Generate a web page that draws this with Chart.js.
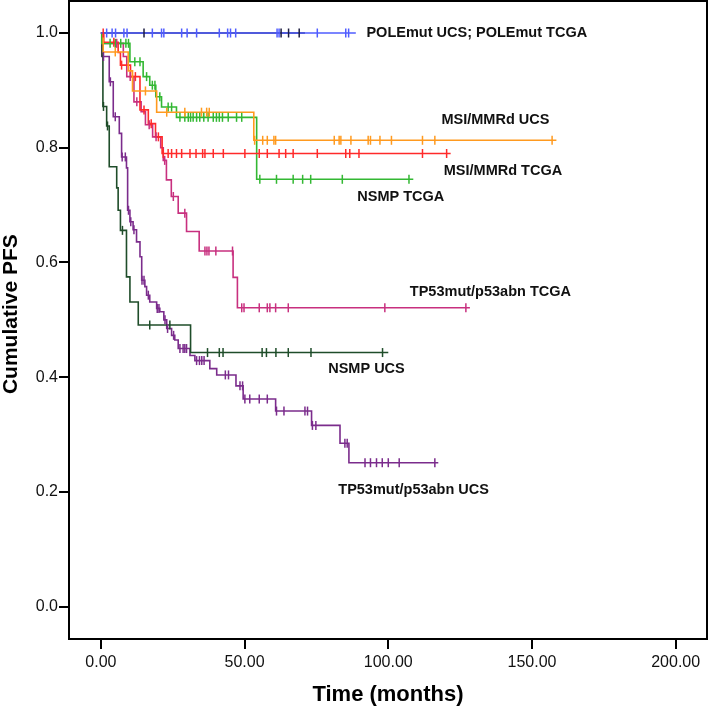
<!DOCTYPE html>
<html>
<head>
<meta charset="utf-8">
<title>Cumulative PFS</title>
<script src="https://cdn.jsdelivr.net/npm/chart.js@4/dist/chart.umd.min.js"></script>
<style>
  html, body { margin: 0; padding: 0; background: #fff; }
  #wrap { width: 709px; height: 708px; position: relative; }
</style>
</head>
<body>
<div id="wrap"><canvas id="km"></canvas></div>
<script>
// ticks
const xTicks = [0, 50, 100, 150, 200];
const yTicks = [0, 0.2, 0.4, 0.6, 0.8, 1.0];

// POLEmut UCS (no events)
const poleUcsEvents = [];
const poleUcsSurv = [];
const poleUcsCensored = [2.0, 3.9, 5.1, 8.0, 9.1, 17.9, 21.1, 21.9, 28.1, 30.0, 33.3, 41.2, 44.1, 45.1, 46.9, 61.3, 62.0, 75.3, 85.2, 86.2];
const poleUcsLast = 88.7;

// POLEmut TCGA (no events)
const poleTcgaEvents = [];
const poleTcgaSurv = [];
const poleTcgaCensored = [15.0, 62.7, 65.3, 69.0];
const poleTcgaLast = 71.0;

// MSI/MMRd UCS
const msiUcsEvents = [0.8, 9.5, 11.0, 19.4, 53.2];
const msiUcsSurv = [0.967, 0.934, 0.899, 0.862, 0.813];
const msiUcsCensored = [5.0, 15.5, 22.9, 29.2, 35.0, 36.8, 37.7, 53.5, 56.3, 57.9, 60.2, 60.8, 81.2, 82.9, 83.5, 87.0, 93.0, 93.8, 97.1, 101.1, 111.9, 116.2, 157.0];
const msiUcsLast = 158.5;

// MSI/MMRd TCGA
const msiTcgaEvents = [1.0, 6.0, 6.8, 10.3, 13.6, 16.5, 19.0, 21.3];
const msiTcgaSurv = [0.984, 0.966, 0.944, 0.924, 0.866, 0.842, 0.819, 0.790];
const msiTcgaCensored = [0.8, 4.5, 7.2, 12.0, 15.0, 17.5, 20.0, 21.7, 23.4, 24.6, 26.3, 28.1, 31.0, 33.1, 35.4, 36.2, 39.1, 42.6, 50.1, 55.1, 57.9, 62.0, 64.3, 66.9, 75.3, 85.2, 86.6, 89.8, 111.9, 120.3];
const msiTcgaLast = 121.7;

// NSMP TCGA
const nsmpTcgaEvents = [0.3, 10.1, 14.7, 17.0, 19.1, 21.1, 26.3, 54.2];
const nsmpTcgaSurv = [0.982, 0.950, 0.924, 0.909, 0.889, 0.871, 0.853, 0.745];
const nsmpTcgaCensored = [3.2, 5.0, 6.9, 8.7, 9.6, 11.8, 13.6, 15.9, 17.9, 18.8, 20.5, 23.4, 24.6, 27.5, 29.2, 30.4, 31.2, 32.1, 33.3, 34.4, 35.8, 37.3, 39.1, 40.2, 41.2, 42.3, 44.3, 47.2, 49.0, 55.3, 61.1, 66.9, 70.2, 73.0, 84.0, 107.2];
const nsmpTcgaLast = 108.7;

// TP53mut/p53abn TCGA
const p53TcgaEvents = [0.5, 7.8, 9.0, 11.5, 14.0, 15.5, 18.0, 20.8, 21.7, 22.8, 24.5, 26.9, 29.8, 34.2, 46.0, 47.5];
const p53TcgaSurv = [0.982, 0.959, 0.924, 0.880, 0.863, 0.840, 0.819, 0.800, 0.778, 0.744, 0.715, 0.686, 0.654, 0.620, 0.574, 0.521];
const p53TcgaCensored = [5.5, 10.2, 12.5, 16.8, 19.2, 22.2, 25.2, 29.2, 36.2, 36.9, 37.6, 40.0, 45.8, 49.0, 49.8, 55.1, 57.9, 58.8, 60.8, 65.2, 98.8, 127.0];
const p53TcgaLast = 128.4;

// NSMP UCS
const nsmpUcsEvents = [0.4, 0.7, 2.0, 2.9, 5.5, 6.0, 6.8, 8.9, 10.1, 13.0, 31.2];
const nsmpUcsSurv = [0.960, 0.872, 0.838, 0.767, 0.730, 0.691, 0.656, 0.575, 0.531, 0.491, 0.443];
const nsmpUcsCensored = [0.9, 2.3, 7.5, 17.0, 24.0, 37.1, 41.2, 42.5, 56.1, 57.6, 60.9, 65.2, 73.1, 98.0];
const nsmpUcsLast = 100.0;

// TP53mut/p53abn UCS
const p53UcsEvents = [0.3, 2.9, 4.3, 6.4, 7.2, 8.9, 9.3, 10.1, 11.2, 12.4, 13.6, 14.2, 15.3, 15.9, 17.0, 19.4, 20.5, 21.9, 22.9, 24.6, 25.7, 26.9, 31.0, 32.7, 37.9, 40.3, 47.0, 49.5, 60.8, 73.3, 83.2, 86.3];
const p53UcsSurv = [0.959, 0.915, 0.854, 0.825, 0.784, 0.765, 0.691, 0.671, 0.657, 0.636, 0.610, 0.569, 0.558, 0.543, 0.531, 0.520, 0.514, 0.500, 0.485, 0.473, 0.465, 0.450, 0.438, 0.429, 0.415, 0.404, 0.385, 0.362, 0.341, 0.316, 0.285, 0.251];
const p53UcsCensored = [0.9, 3.3, 5.0, 7.4, 8.5, 9.6, 10.4, 11.5, 14.3, 15.0, 16.5, 19.6, 20.2, 22.3, 23.2, 25.3, 27.5, 28.6, 29.2, 29.8, 33.3, 34.3, 35.1, 35.9, 43.3, 44.4, 48.4, 49.3, 50.1, 51.8, 55.1, 57.9, 61.1, 63.7, 71.0, 71.9, 73.6, 74.8, 84.9, 85.7, 91.9, 93.8, 95.9, 97.9, 100.0, 103.8, 116.2];
const p53UcsLast = 117.4;

const series = [
  { name: 'POLEmut UCS', color: '#4f5cff', events: poleUcsEvents, surv: poleUcsSurv, censored: poleUcsCensored, last: poleUcsLast },
  { name: 'POLEmut TCGA', color: '#1c1c40', events: poleTcgaEvents, surv: poleTcgaSurv, censored: poleTcgaCensored, last: poleTcgaLast },
  { name: 'MSI/MMRd UCS', color: '#ff9a1f', events: msiUcsEvents, surv: msiUcsSurv, censored: msiUcsCensored, last: msiUcsLast },
  { name: 'MSI/MMRd TCGA', color: '#ff2a2a', events: msiTcgaEvents, surv: msiTcgaSurv, censored: msiTcgaCensored, last: msiTcgaLast },
  { name: 'NSMP TCGA', color: '#33b833', events: nsmpTcgaEvents, surv: nsmpTcgaSurv, censored: nsmpTcgaCensored, last: nsmpTcgaLast },
  { name: 'TP53mut/p53abn TCGA', color: '#c8307f', events: p53TcgaEvents, surv: p53TcgaSurv, censored: p53TcgaCensored, last: p53TcgaLast },
  { name: 'NSMP UCS', color: '#1f4d2a', events: nsmpUcsEvents, surv: nsmpUcsSurv, censored: nsmpUcsCensored, last: nsmpUcsLast },
  { name: 'TP53mut/p53abn UCS', color: '#7b2c8c', events: p53UcsEvents, surv: p53UcsSurv, censored: p53UcsCensored, last: p53UcsLast },
];

// text labels next to the curves (data coordinates of the left/middle anchor)
const curveLabels = [
  { text: 'POLEmut UCS; POLEmut TCGA', x: 92.4, y: 1.0 },
  { text: 'MSI/MMRd UCS', x: 118.5, y: 0.848 },
  { text: 'MSI/MMRd TCGA', x: 119.3, y: 0.759 },
  { text: 'NSMP TCGA', x: 89.2, y: 0.715 },
  { text: 'TP53mut/p53abn TCGA', x: 107.5, y: 0.549 },
  { text: 'NSMP UCS', x: 79.1, y: 0.415 },
  { text: 'TP53mut/p53abn UCS', x: 82.6, y: 0.204 },
];

const FONT = 'Arial, "Liberation Sans", sans-serif';
Chart.defaults.font.family = FONT;

// KM estimate at time t (step function)
function survAt(s, t) {
  let v = 1;
  s.events.forEach((e, i) => { if (e <= t) v = s.surv[i]; });
  return v;
}

function stepPoints(s) {
  const pts = [{ x: 0, y: 1 }];
  s.events.forEach((e, i) => pts.push({ x: e, y: s.surv[i] }));
  pts.push({ x: s.last, y: survAt(s, s.last) });
  return pts;
}

const censorSets = series.map((s) => ({
  label: s.name + ' censored',
  data: s.censored.map((t) => ({ x: t, y: survAt(s, t) })),
  showLine: false,
  pointStyle: 'line',
  rotation: 90,
  pointRadius: 4.5,
  pointBorderWidth: 1.5,
  borderColor: s.color,
  backgroundColor: s.color,
}));

const lineSets = series.map((s) => ({
  label: s.name,
  data: stepPoints(s),
  showLine: true,
  stepped: true,
  borderColor: s.color,
  borderWidth: 1.6,
  pointRadius: 0,
  fill: false,
}));

const framePlugin = {
  id: 'frame',
  afterDraw(chart) {
    const { ctx, chartArea: a } = chart;
    ctx.save();
    ctx.strokeStyle = '#000';
    ctx.lineWidth = 2;
    ctx.strokeRect(a.left, a.top, a.right - a.left, a.bottom - a.top);
    // y axis title, drawn by hand so it can sit a little above the middle as in the original
    ctx.font = 'bold 21px ' + FONT;
    ctx.fillStyle = '#000';
    ctx.textAlign = 'center';
    ctx.textBaseline = 'alphabetic';
    ctx.translate(16.5, chart.scales.y.getPixelForValue(0.51));
    ctx.rotate(-Math.PI / 2);
    ctx.fillText('Cumulative PFS', 0, 0);
    ctx.restore();
  },
};

const labelPlugin = {
  id: 'curveLabels',
  afterDatasetsDraw(chart) {
    const { ctx, scales: { x, y } } = chart;
    ctx.save();
    ctx.font = 'bold 14.5px ' + FONT;
    ctx.fillStyle = '#111';
    ctx.textAlign = 'left';
    ctx.textBaseline = 'middle';
    curveLabels.forEach((l) => ctx.fillText(l.text, x.getPixelForValue(l.x), y.getPixelForValue(l.y)));
    ctx.restore();
  },
};

new Chart(document.getElementById('km'), {
  type: 'scatter',
  data: { datasets: [...censorSets, ...lineSets] },
  options: {
    responsive: true,
    maintainAspectRatio: false,
    animation: false,
    events: [],
    layout: { autoPadding: false, padding: { top: 1, right: 2, left: 0, bottom: 0 } },
    plugins: { legend: { display: false }, tooltip: { enabled: false } },
    scales: {
      x: {
        type: 'linear',
        min: -11.1,
        max: 210.9,
        afterBuildTicks: (sc) => { sc.ticks = xTicks.map((v) => ({ value: v })); },
        afterFit: (sc) => { sc.height = 69; sc.paddingLeft = 0; sc.paddingRight = 0; },
        ticks: { color: '#111', font: { size: 16 }, padding: 4, maxRotation: 0, callback: (v) => Number(v).toFixed(2) },
        grid: { drawOnChartArea: false, drawTicks: true, tickLength: 10, color: '#000', lineWidth: 2 },
        border: { display: false },
        title: { display: true, text: 'Time (months)', color: '#000', font: { size: 22, weight: 'bold' }, padding: { top: 0, bottom: 0 } },
      },
      y: {
        type: 'linear',
        min: -0.0563,
        max: 1.0558,
        afterBuildTicks: (sc) => { sc.ticks = yTicks.map((v) => ({ value: v })); },
        afterFit: (sc) => { sc.width = 69; sc.paddingTop = 0; sc.paddingBottom = 0; },
        ticks: { color: '#111', font: { size: 16 }, padding: 1, callback: (v) => Number(v).toFixed(1) },
        grid: { drawOnChartArea: false, drawTicks: true, tickLength: 10, color: '#000', lineWidth: 2 },
        border: { display: false },
        title: { display: false },
      },
    },
  },
  plugins: [framePlugin, labelPlugin],
});
</script>
</body>
</html>
